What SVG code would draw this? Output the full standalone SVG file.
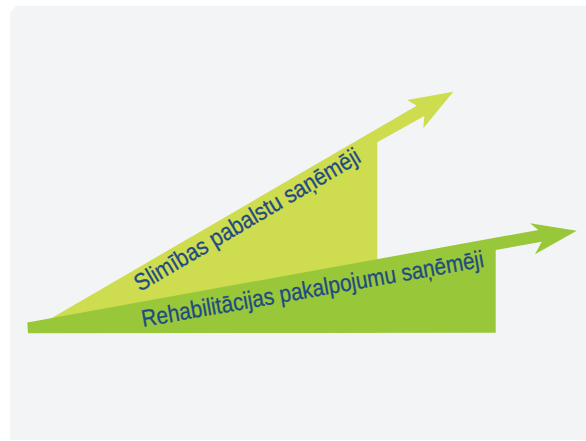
<svg xmlns="http://www.w3.org/2000/svg" width="586" height="441" viewBox="0 0 586 441">
  <style>
    .label { font-family: "Liberation Sans", Arial, sans-serif; font-size: 24px; fill: #1e4b82; stroke: #1e4b82; stroke-width: 0.3px; }
    .light { fill: #cedc4f; }
    .dark { fill: #99c73a; }
  </style>
  <rect width="586" height="441" fill="#ffffff"/>
  <!-- panel with a bevelled top-left corner -->
  <path d="M10,13 L16,6 H586 V440 H10 Z" fill="#f3f4f6"/>

  <g id="arrow-slimibas">
    <path class="light" d="M50,319 L416.7,105.7 L407.3,100 L453.3,91.7 L423.3,128.3 L424.3,116 L377.3,142.3 L377.3,333 L50,333 Z"/>
    <text class="label" transform="translate(140,292) rotate(-30.5)" textLength="258" lengthAdjust="spacingAndGlyphs">Slimības pabalstu saņēmēji</text>
  </g>

  <g id="arrow-rehabilitacija">
    <path class="dark" d="M27.3,322.5 L538.3,230 L530,223.3 L576.7,230.7 L535,254.3 L541.7,241.7 L495.7,250 L495.7,332.8 L28,333.3 Z"/>
    <text class="label" transform="translate(143,327) rotate(-10)" textLength="347" lengthAdjust="spacingAndGlyphs">Rehabilitācijas pakalpojumu saņēmēji</text>
  </g>
</svg>
